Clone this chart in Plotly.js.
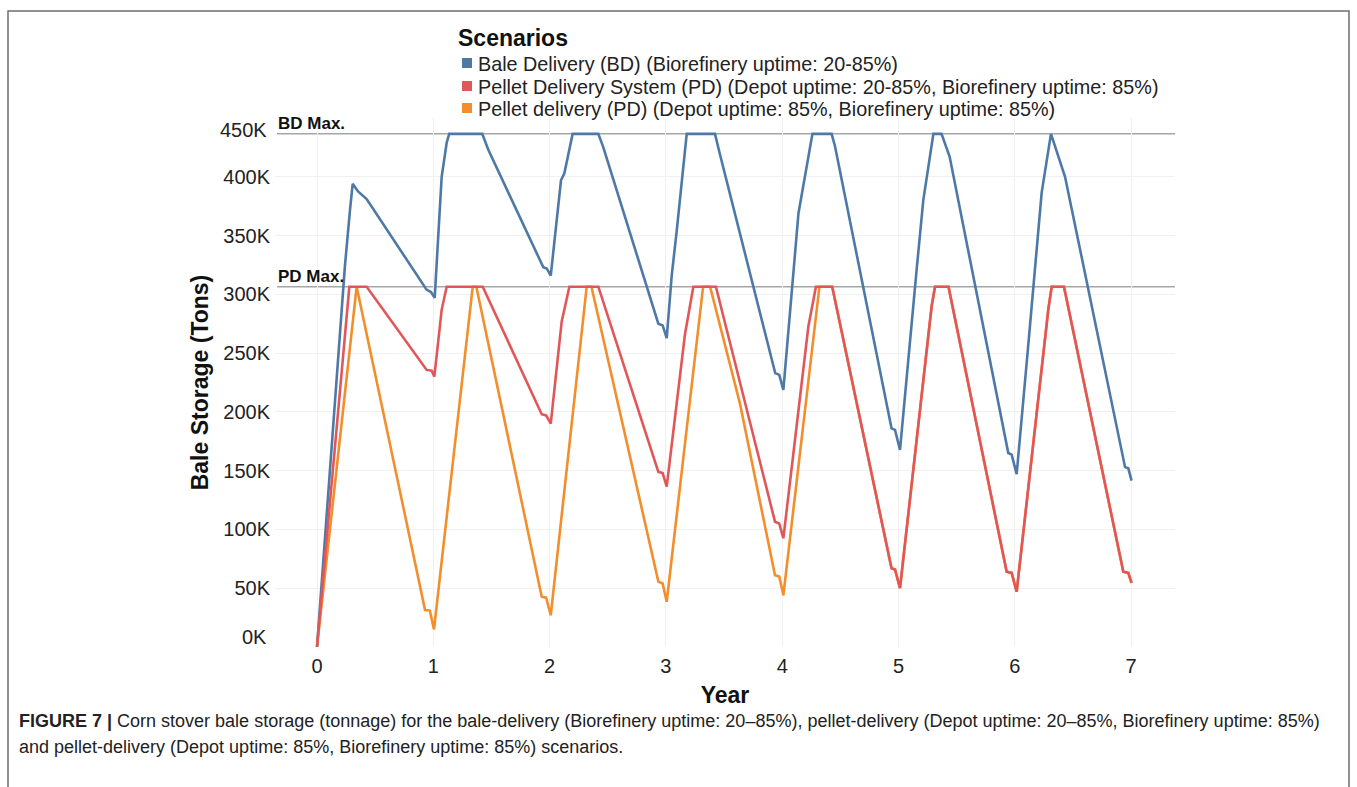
<!DOCTYPE html>
<html>
<head>
<meta charset="utf-8">
<script src="https://cdn.plot.ly/plotly-3.0.1.min.js"></script>
<style>
  html, body { margin: 0; padding: 0; background: #fff; }
  #chart { width: 1357px; height: 787px; }
</style>
</head>
<body>
<div id="chart"></div>
<script>
// ---------------- DATA ----------------
const seriesNames = [
  "Bale Delivery (BD) (Biorefinery uptime: 20-85%)",
  "Pellet Delivery System (PD) (Depot uptime: 20-85%, Biorefinery uptime: 85%)",
  "Pellet delivery (PD) (Depot uptime: 85%, Biorefinery uptime: 85%)"
];

// Bale Delivery (BD)
const yearBD = [0, 0.24, 0.284, 0.307, 0.353, 0.427, 0.942, 0.98, 1.012, 1.072, 1.115, 1.137, 1.421, 1.473,
  1.946, 1.975, 2.01, 2.098, 2.127, 2.198, 2.419, 2.462, 2.935, 2.972, 3.007, 3.05, 3.093, 3.179, 3.422, 3.465,
  3.94, 3.975, 4.01, 4.1, 4.14, 4.26, 4.425, 4.454, 4.94, 4.97, 5.013, 5.156, 5.213, 5.3, 5.37, 5.44,
  5.944, 5.973, 6.016, 6.116, 6.231, 6.311, 6.331, 6.432, 6.948, 6.976, 7.004];
const storageBD = [0, 324000, 372000, 394000, 387500, 381000, 304000, 302000, 297000, 400000, 429000, 436500, 436500, 423000,
  323000, 322000, 316000, 397000, 403000, 436500, 436500, 425000, 275000, 273600, 262700, 316000, 354000, 436500, 436500, 419000,
  233000, 231500, 218700, 321000, 369000, 436500, 436500, 426000, 186000, 184700, 167600, 321000, 380000, 436500, 436500, 417000,
  165000, 163600, 147000, 257000, 386500, 436500, 430600, 400000, 153000, 152000, 141500];

// Pellet Delivery System (PD) (Depot uptime 20-85%)
const yearPDvar = [0, 0.24, 0.278, 0.427, 0.886, 0.943, 0.986, 1.009, 1.072, 1.115, 1.425, 1.932, 1.97, 2.01,
  2.104, 2.17, 2.419, 2.935, 2.972, 3.007, 3.164, 3.236, 3.43, 3.637, 3.938, 3.975, 4.01, 4.225, 4.29, 4.43,
  4.94, 4.97, 5.013, 5.285, 5.314, 5.43, 5.93, 5.973, 6.016, 6.288, 6.317, 6.423, 6.933, 6.976, 7.004];
const storagePDvar = [0, 270000, 306500, 306500, 244000, 235700, 235000, 230000, 286800, 306500, 306500, 198000, 197000, 190000,
  277000, 306500, 306500, 149000, 148000, 136500, 266000, 306500, 306500, 224000, 106600, 105000, 92500, 272600, 306500, 306500,
  67000, 66000, 50000, 290000, 306500, 306500, 64000, 63000, 47000, 287000, 306500, 306500, 64000, 63000, 54500];

// Pellet delivery (PD) (Depot uptime 85%)
const yearPD85 = [0, 0.341, 0.929, 0.97, 1.006, 1.339, 1.37, 1.932, 1.97, 2.01, 2.319, 2.36, 2.935, 2.972, 3.007,
  3.32, 3.38, 3.637, 3.938, 3.975, 4.01, 4.32, 4.43, 4.94, 4.97, 5.013, 5.285, 5.314, 5.43, 5.93, 5.973, 6.016,
  6.288, 6.317, 6.423, 6.933, 6.976, 7.004];
const storagePD85 = [0, 306500, 31500, 31000, 15000, 306500, 306500, 42800, 42000, 27000, 306500, 306500, 55600, 54000, 38500,
  306500, 306500, 207000, 61000, 60000, 44000, 306500, 306500, 67000, 66000, 50000, 290000, 306500, 306500, 64000, 63000, 47000,
  287000, 306500, 306500, 64000, 63000, 54500];

// Reference levels
const refNames = ["BD Max.", "PD Max."];
const refValues = [436500, 306500];

// Ticks
const xTickVals = [0, 1, 2, 3, 4, 5, 6, 7];
const xTickLabels = ["0", "1", "2", "3", "4", "5", "6", "7"];
const yTickVals = [0, 50000, 100000, 150000, 200000, 250000, 300000, 350000, 400000, 450000];
const yTickLabels = ["0K", "50K", "100K", "150K", "200K", "250K", "300K", "350K", "400K", "450K"];

const colors = ["#4e79a7", "#e15759", "#f28e2b"];

// ---------------- LAYOUT HELPERS ----------------
const W = 1357, H = 787, L = 275, R = 182, T = 118, B = 140;
const PW = W - L - R, PH = H - T - B;
const fx = p => (p - L) / PW;       // pixel x -> paper
const fy = p => (H - B - p) / PH;   // pixel y -> paper
const FONT = "Liberation Sans, Arial, Helvetica, sans-serif";

const traces = [
  {x: yearBD, y: storageBD, name: seriesNames[0], color: colors[0]},
  {x: yearPD85, y: storagePD85, name: seriesNames[2], color: colors[2]},
  {x: yearPDvar, y: storagePDvar, name: seriesNames[1], color: colors[1]}
].map(s => ({
  type: "scatter", mode: "lines", x: s.x, y: s.y, name: s.name,
  line: {color: s.color, width: 2.6}, hoverinfo: "skip", showlegend: false
}));

const shapes = [];
const annotations = [];

// figure frame
shapes.push({type: "rect", xref: "paper", yref: "paper",
  x0: fx(8), x1: fx(1349), y0: fy(795), y1: fy(11),
  line: {color: "#6e6e6e", width: 1.5}, fillcolor: "rgba(0,0,0,0)", layer: "below"});

// reference lines + labels
refValues.forEach((v, i) => {
  shapes.push({type: "line", xref: "paper", yref: "y", x0: fx(277), x1: 1, y0: v, y1: v,
    line: {color: "#a6a6a6", width: 1.5}, layer: "between"});
  annotations.push({xref: "paper", yref: "y", x: fx(276), y: v, xanchor: "left", yanchor: "bottom",
    yshift: -1, text: "<b>" + refNames[i] + "</b>", showarrow: false,
    font: {family: FONT, size: 17, color: "#111"}});
});

// edge y tick labels shifted inward (as in reference)
annotations.push({xref: "paper", yref: "y", x: fx(269), y: yTickVals[0], xanchor: "right", yanchor: "middle",
  yshift: 10, text: yTickLabels[0], showarrow: false, font: {family: FONT, size: 20, color: "#222"}});
annotations.push({xref: "paper", yref: "y", x: fx(269), y: yTickVals[yTickVals.length - 1], xanchor: "right", yanchor: "middle",
  yshift: -12, text: yTickLabels[yTickLabels.length - 1], showarrow: false, font: {family: FONT, size: 20, color: "#222"}});

// legend (manual)
annotations.push({xref: "paper", yref: "paper", x: fx(456), y: fy(38), xanchor: "left", yanchor: "middle",
  text: "<b>Scenarios</b>", showarrow: false, font: {family: FONT, size: 23, color: "#111"}});
const legendOrder = [0, 1, 2];
const legendY = [63, 86, 108];
legendOrder.forEach((k, i) => {
  const cy = legendY[i];
  shapes.push({type: "rect", xref: "paper", yref: "paper", x0: fx(462), x1: fx(472), y0: fy(cy + 5), y1: fy(cy - 5),
    line: {width: 0}, fillcolor: colors[k]});
  annotations.push({xref: "paper", yref: "paper", x: fx(476), y: fy(cy + 1), xanchor: "left", yanchor: "middle",
    text: seriesNames[k], showarrow: false, font: {family: FONT, size: 19.8, color: "#222"}});
});

// caption
const captionLine1 = "<b>FIGURE 7 |</b> Corn stover bale storage (tonnage) for the bale-delivery (Biorefinery uptime: 20–85%), pellet-delivery (Depot uptime: 20–85%, Biorefinery uptime: 85%)";
const captionLine2 = "and pellet-delivery (Depot uptime: 85%, Biorefinery uptime: 85%) scenarios.";
[[captionLine1, 721], [captionLine2, 747]].forEach(([t, cy]) => {
  annotations.push({xref: "paper", yref: "paper", x: fx(17), y: fy(cy), xanchor: "left", yanchor: "middle",
    text: t, showarrow: false, font: {family: FONT, size: 18, color: "#222"}});
});

const layout = {
  width: W, height: H,
  margin: {l: L, r: R, t: T, b: B, pad: 0},
  paper_bgcolor: "#ffffff", plot_bgcolor: "#ffffff",
  font: {family: FONT, color: "#222"},
  showlegend: false,
  hovermode: false,
  xaxis: {
    range: [(L - 317) / 116.3, (W - R - 317) / 116.3],
    tickvals: xTickVals, ticktext: xTickLabels,
    showgrid: true, gridcolor: "#f0f0f0", gridwidth: 1,
    zeroline: false, showline: false, ticks: "",
    tickfont: {family: FONT, size: 20, color: "#222"},
    ticklabelstandoff: 5,
    title: {text: "<b>Year</b>", font: {family: FONT, size: 23, color: "#111"}, standoff: 10},
    automargin: false, fixedrange: true
  },
  yaxis: {
    range: [0, 450000],
    tickvals: yTickVals,
    ticktext: yTickLabels.map((t, i) => (i === 0 || i === yTickLabels.length - 1) ? "" : t),
    showgrid: true, gridcolor: "#f0f0f0", gridwidth: 1,
    zeroline: false, showline: false, ticks: "",
    tickfont: {family: FONT, size: 20, color: "#222"},
    ticklabelstandoff: 4,
    title: {text: "<b>Bale Storage (Tons)</b>", font: {family: FONT, size: 23, color: "#111"}, standoff: 8},
    automargin: false, fixedrange: true
  },
  shapes: shapes,
  annotations: annotations
};

Plotly.newPlot("chart", traces, layout, {staticPlot: true, displayModeBar: false});
</script>
</body>
</html>
